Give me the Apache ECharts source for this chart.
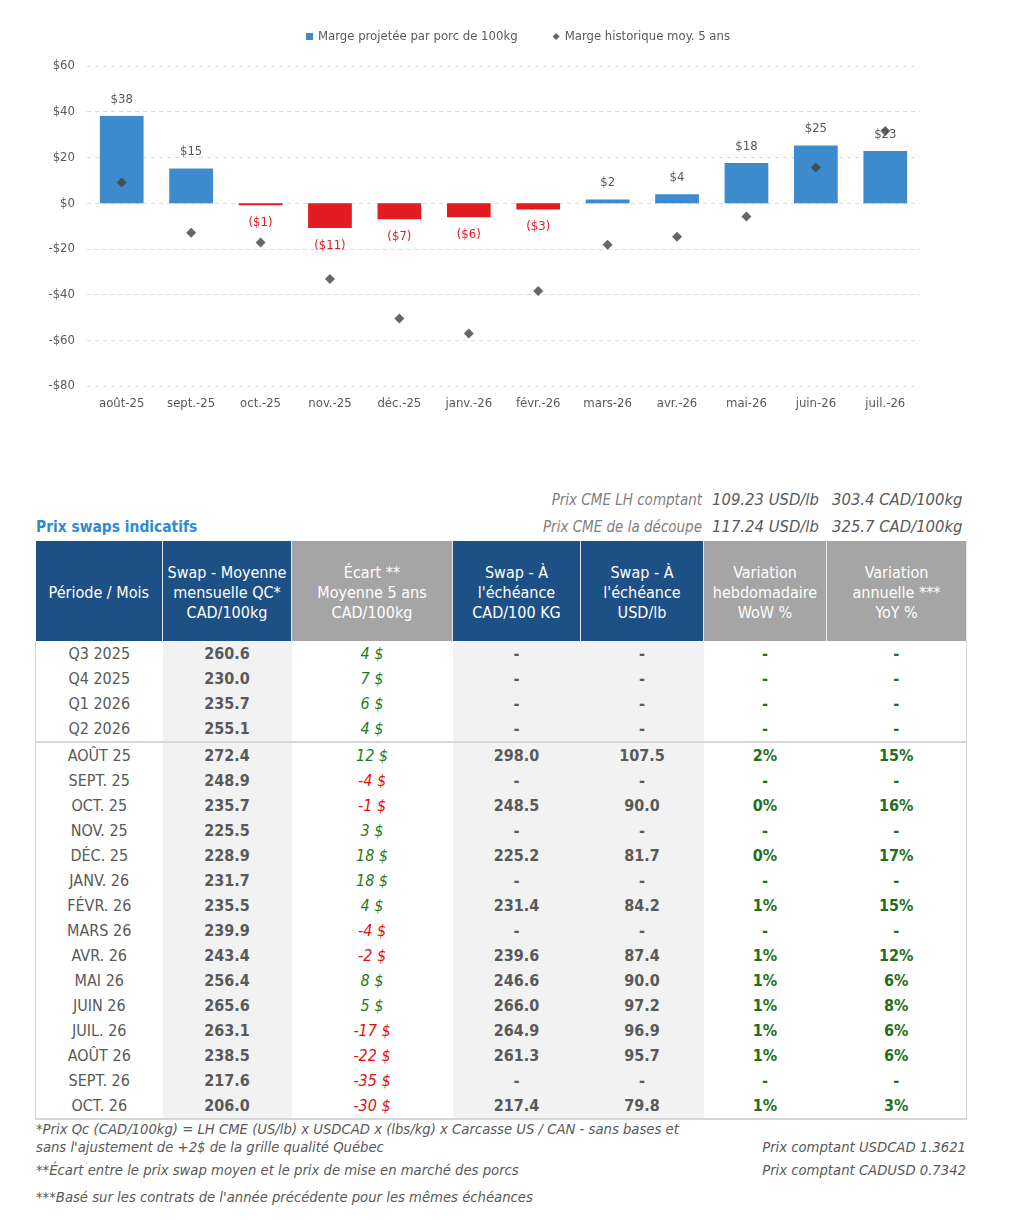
<!DOCTYPE html>
<html><head><meta charset="utf-8">
<script src="https://cdn.jsdelivr.net/npm/echarts@6/dist/echarts.min.js"></script>
<style>
html,body{margin:0;padding:0;background:#fff;width:1024px;height:1220px;overflow:hidden;font-family:"DejaVu Sans Condensed","DejaVu Sans",sans-serif;}
#chart{position:absolute;left:0;top:0;width:1024px;height:430px;}
.abs{position:absolute;white-space:nowrap;}
#title{left:36px;top:518px;font-size:15.4px;font-weight:bold;color:#2E8BD0;}
.topinfo{font-size:15px;font-style:italic;color:#7f7f7f;}
.topinfo.v{color:#595959;font-size:16.5px;}
table{position:absolute;left:35px;top:541px;border-collapse:collapse;table-layout:fixed;font-size:16px;}
th{color:#fff;font-weight:normal;height:100px;padding:4px 2px 0 2px;box-sizing:border-box;line-height:20px;text-align:center;border-right:1px solid #e6e6e6;}
th.b{background:#1D5186;}
th.g{background:#A5A5A5;}
td{height:25px;padding:0;text-align:center;color:#595959;line-height:25px;}
td.sh{background:#F2F2F2;}
td.bd{font-weight:bold;}
td.gr{color:#1E7B1E;}
td.rd{color:#E01010;}
td.ec{font-style:italic;}
td.pc{color:#1F6F1F;font-weight:bold;}
tr.sep td{border-bottom:2px solid #D6D6D6;}
tbody tr td:first-child{border-left:1px solid #D6D6D6;}
tbody tr td:last-child{border-right:1px solid #D6D6D6;}
tbody tr:last-child td{border-bottom:2px solid #D6D6D6;}
.foot{font-size:14.7px;font-style:italic;color:#595959;}
</style></head><body>
<div id="chart"></div>
<div id="tablearea"></div>
<script>
// ---- chart data ----
const months = ['août-25','sept.-25','oct.-25','nov.-25','déc.-25','janv.-26','févr.-26','mars-26','avr.-26','mai-26','juin-26','juil.-26'];
const margeProjetee = [38.1, 15.2, -0.9, -10.9, -7.0, -6.2, -2.8, 1.6, 3.9, 17.6, 25.2, 22.8];
const margeHistorique = [9.0, -13.0, -17.2, -33.2, -50.5, -57.0, -38.4, -18.2, -14.7, -5.8, 15.6, 31.6];
const seriesNames = ['Marge projetée par porc de 100kg', 'Marge historique moy. 5 ans'];

// ---- table data ----
const periodes = ['Q3 2025','Q4 2025','Q1 2026','Q2 2026','AOÛT 25','SEPT. 25','OCT. 25','NOV. 25','DÉC. 25','JANV. 26','FÉVR. 26','MARS 26','AVR. 26','MAI 26','JUIN 26','JUIL. 26','AOÛT 26','SEPT. 26','OCT. 26'];
const swapMoyenne = ['260.6','230.0','235.7','255.1','272.4','248.9','235.7','225.5','228.9','231.7','235.5','239.9','243.4','256.4','265.6','263.1','238.5','217.6','206.0'];
const ecart = [4,7,6,4,12,-4,-1,3,18,18,4,-4,-2,8,5,-17,-22,-35,-30];
const swapCad = ['-','-','-','-','298.0','-','248.5','-','225.2','-','231.4','-','239.6','246.6','266.0','264.9','261.3','-','217.4'];
const swapUsd = ['-','-','-','-','107.5','-','90.0','-','81.7','-','84.2','-','87.4','90.0','97.2','96.9','95.7','-','79.8'];
const wow = ['-','-','-','-','2%','-','0%','-','0%','-','1%','-','1%','1%','1%','1%','1%','-','1%'];
const yoy = ['-','-','-','-','15%','-','16%','-','17%','-','15%','-','12%','6%','8%','6%','6%','-','3%'];
const headers = [
  ['Période / Mois','b'],
  ['Swap - Moyenne<br>mensuelle QC*<br>CAD/100kg','b'],
  ['Écart **<br>Moyenne 5 ans<br>CAD/100kg','g'],
  ['Swap - À<br>l\'échéance<br>CAD/100 KG','b'],
  ['Swap - À<br>l\'échéance<br>USD/lb','b'],
  ['Variation<br>hebdomadaire<br>WoW %','g'],
  ['Variation<br>annuelle ***<br>YoY %','g']
];
const colWidths = [127,129,161,128,123,123,140];
const topInfo = [['Prix CME LH comptant','109.23 USD/lb','303.4 CAD/100kg'],['Prix CME de la découpe','117.24 USD/lb','325.7 CAD/100kg']];
const footLeft = ['*Prix Qc (CAD/100kg) = LH CME (US/lb) x USDCAD x (lbs/kg) x Carcasse US / CAN - sans bases et','sans l\'ajustement de +2$ de la grille qualité Québec','**Écart entre le prix swap moyen et le prix de mise en marché des porcs','***Basé sur les contrats de l\'année précédente pour les mêmes échéances'];
const footRight = ['Prix comptant USDCAD 1.3621','Prix comptant CADUSD 0.7342'];

// ---- chart ----
const fmt = v => { const r = Math.round(Math.abs(v)); return v < 0 ? '($' + r + ')' : '$' + r; };
const chart = echarts.init(document.getElementById('chart'), null, {renderer:'canvas'});
const FONT = '"DejaVu Sans Condensed", "DejaVu Sans", sans-serif';
chart.setOption({
  animation:false,
  textStyle:{fontFamily:FONT},
  legend:{
    top:25, left:301, itemGap:35, itemWidth:7, itemHeight:7,
    textStyle:{color:'#595959', fontSize:13, fontFamily:FONT},
    data:[{name:seriesNames[0], icon:'rect'},{name:seriesNames[1], icon:'diamond', itemStyle:{color:'#404040'}}]
  },
  grid:{left:87, right:104, top:66, bottom:44},
  xAxis:{type:'category', data:months,
    axisLine:{show:false, onZero:false}, axisTick:{show:false},
    axisLabel:{color:'#595959', fontSize:13, margin:11, fontFamily:FONT}},
  yAxis:{type:'value', min:-80, max:60, interval:20,
    axisLine:{show:false}, axisTick:{show:false},
    splitLine:{lineStyle:{color:'#D9D9D9', type:[4,4], width:1}},
    axisLabel:{color:'#595959', fontSize:13, margin:12, fontFamily:FONT,
      formatter: v => v < 0 ? '-$' + Math.abs(v) : '$' + v}},
  series:[
    {name:seriesNames[0], type:'bar', barWidth:'63%', color:'#3D8BCD',
     data: margeProjetee.map(v => ({value:v,
        itemStyle:{color: v < 0 ? '#E31B23' : '#3D8BCD'},
        label:{show:true, position: v < 0 ? 'bottom' : 'top', distance: v < 0 ? 11 : 10,
          color: v < 0 ? '#E31B23' : '#595959', fontSize:13, fontFamily:FONT,
          formatter: p => fmt(p.value)}}))},
    {name:seriesNames[1], type:'scatter', symbol:'diamond', symbolSize:10, z:5,
     itemStyle:{color:'#404040'}, data: margeHistorique}
  ]
});

// ---- table area ----
const area = document.getElementById('tablearea');
let html = '<div class="abs" id="title">Prix swaps indicatifs</div>';
topInfo.forEach((r,i) => {
  const y = 490 + i*27;
  html += `<div class="abs topinfo" style="right:${1024-702}px;top:${y+1}px">${r[0]}</div>`;
  html += `<div class="abs topinfo v" style="left:712px;top:${y}px">${r[1]}</div>`;
  html += `<div class="abs topinfo v" style="left:832px;top:${y}px">${r[2]}</div>`;
});
html += '<table><colgroup>' + colWidths.map(w => `<col style="width:${w}px">`).join('') + '</colgroup><thead><tr>';
html += headers.map(h => `<th class="${h[1]}">${h[0]}</th>`).join('');
html += '</tr></thead><tbody>';
periodes.forEach((p,i) => {
  const e = ecart[i];
  html += `<tr${i===3?' class="sep"':''}>`;
  html += `<td>${p}</td>`;
  html += `<td class="sh bd">${swapMoyenne[i]}</td>`;
  html += `<td class="ec ${e<0?'rd':'gr'}">${e} $</td>`;
  html += `<td class="sh bd">${swapCad[i]}</td>`;
  html += `<td class="sh bd">${swapUsd[i]}</td>`;
  html += `<td class="pc">${wow[i]}</td>`;
  html += `<td class="pc">${yoy[i]}</td>`;
  html += '</tr>';
});
html += '</tbody></table>';
const footY = [1120, 1138, 1161, 1188];
footLeft.forEach((t,i) => { html += `<div class="abs foot" style="left:36px;top:${footY[i]}px">${t}</div>`; });
footRight.forEach((t,i) => { html += `<div class="abs foot" style="right:${1024-966}px;top:${footY[i+1]}px">${t}</div>`; });
area.innerHTML = html;
</script>
</body></html>
